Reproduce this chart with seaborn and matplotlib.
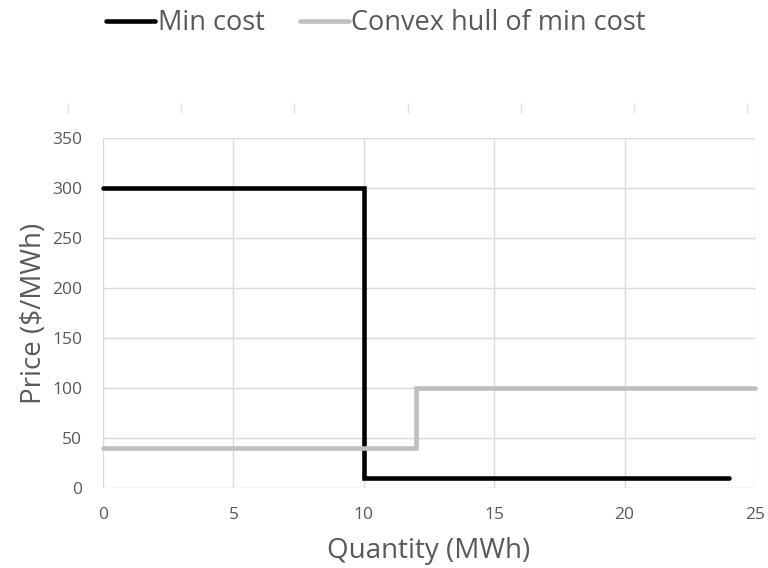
import matplotlib
matplotlib.use("Agg")
import matplotlib.pyplot as plt
import seaborn as sns
import pandas as pd

# Step curves (vertices of each step)
min_cost_q = [0, 10, 10, 24]
min_cost_p = [300, 300, 10, 10]
hull_q = [0, 12, 12, 25]
hull_p = [40, 40, 100, 100]

x_ticks = [0, 5, 10, 15, 20, 25]
y_ticks = [0, 50, 100, 150, 200, 250, 300, 350]

df = pd.concat([
    pd.DataFrame({"q": min_cost_q, "p": min_cost_p, "series": "Min cost"}),
    pd.DataFrame({"q": hull_q, "p": hull_p, "series": "Convex hull of min cost"}),
], ignore_index=True)

sns.set_style("white")
plt.rcParams["font.family"] = ["Open Sans", "DejaVu Sans"]

fig = plt.figure(figsize=(7.68, 5.68), dpi=100)
ax = fig.add_axes([103 / 768, 1 - 488 / 568, (755 - 103) / 768, (488 - 138) / 568])

sns.lineplot(data=df, x="q", y="p", hue="series", sort=False,
             estimator=None, ax=ax, linewidth=3.3,
             palette={"Min cost": "#000000", "Convex hull of min cost": "#BFBFBF"},
             hue_order=["Min cost", "Convex hull of min cost"])
for ln in ax.get_lines():
    ln.set_solid_capstyle("round")
    ln.set_solid_joinstyle("miter")
    ln.set_clip_on(False)

ax.set_xlim(0, 25)
ax.set_ylim(0, 350)
ax.set_xticks(x_ticks)
ax.set_yticks(y_ticks)
ax.grid(True, color="#D9D9D9", linewidth=1)
ax.set_axisbelow(True)
for s in ax.spines.values():
    s.set_visible(False)
ax.tick_params(axis="both", length=0, labelsize=12.5, labelcolor="#595959")
ax.tick_params(axis="x", pad=14)
ax.tick_params(axis="y", pad=15)
ax.set_xlabel("Quantity (MWh)", fontsize=20, color="#595959", labelpad=10)
ax.set_ylabel("Price ($/MWh)", fontsize=20, color="#595959", labelpad=3)

handles, labels = ax.get_legend_handles_labels()
ax.legend_.remove()
fig.legend(handles, labels, loc="center", bbox_to_anchor=(376 / 768, 1 - 23 / 568),
           ncol=2, frameon=False, fontsize=19.5, handlelength=1.8, handletextpad=0.1,
           columnspacing=1.3, labelcolor="#595959")

# faint tick row above the plot
tick_ax = fig.add_axes([68 / 768, 1 - 103 / 568, (747 - 68) / 768, 1 / 568])
tick_ax.set_xlim(0, 6)
tick_ax.set_xticks(range(7))
tick_ax.set_yticks([])
tick_ax.set_xticklabels([])
for s in tick_ax.spines.values():
    s.set_visible(False)
tick_ax.tick_params(axis="x", length=7.5, width=1, color="#E3E3E3", direction="out", bottom=True)
tick_ax.patch.set_visible(False)

fig.savefig("out.png", dpi=100, facecolor="white")
